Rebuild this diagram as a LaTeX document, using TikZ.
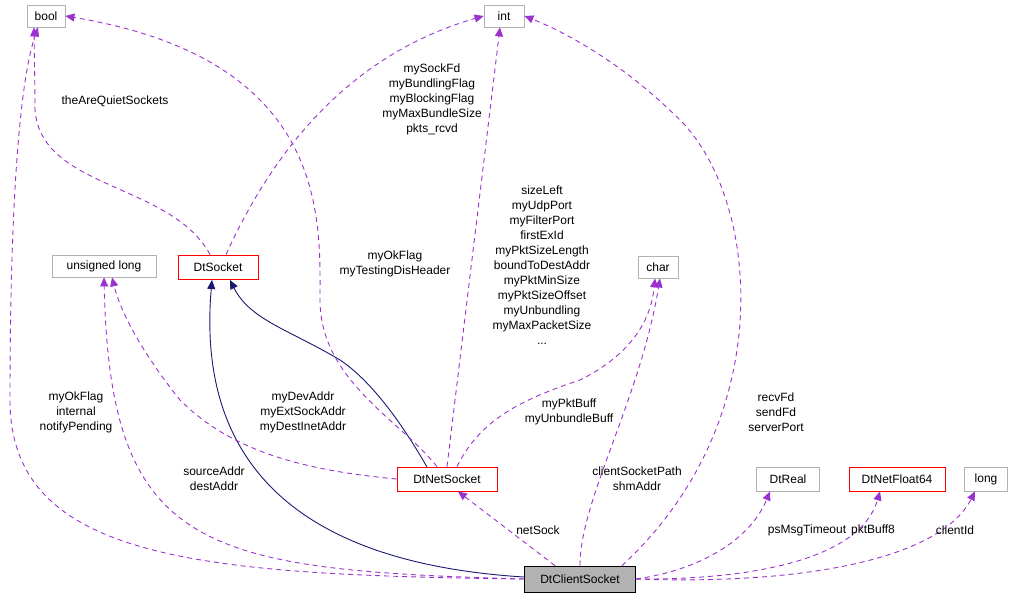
\documentclass[tikz,border=0pt]{standalone}
\usepackage{fontspec}
\setmainfont{Liberation Sans}
\usetikzlibrary{arrows.meta}
\definecolor{orch}{HTML}{9A32CD}
\definecolor{navy}{HTML}{191970}
\definecolor{bred}{HTML}{FF0000}
\begin{document}
\begin{tikzpicture}[x=1pt,y=-1pt,
  fnt/.style={font=\fontsize{12}{15}\selectfont},
  box/.style={draw=black!30,line width=0.8pt,fill=white,inner sep=0pt,minimum height=22pt,fnt},
  rbox/.style={draw=bred,line width=0.9pt,fill=white,inner sep=0pt,minimum height=24pt,fnt},
  use/.style={draw=orch,line width=0.9pt,dash pattern=on 5pt off 4pt,-{Triangle[length=9pt,width=8pt]}},
  inh/.style={draw=navy,line width=0.9pt,-{Triangle[length=9pt,width=8pt]}},
  lab/.style={fnt,align=center,inner sep=0pt}]
\useasboundingbox (0,0) rectangle (1018,600);
\draw[inh] (524,577) .. controls (250,560) and (200,420) .. (212,280);
\draw[inh] (427,467) .. controls (400,420) and (370,380) .. (340,360) .. controls (290,330) and (250,320) .. (230,280);

\node[box,minimum width=38pt] (bool) at (46,16) {bool};
\node[box,minimum width=40pt] (int) at (504,16) {int};
\node[box,minimum width=104pt] (ul) at (104,266) {unsigned long};
\node[rbox,minimum width=80pt] (sock) at (218,267) {DtSocket};
\node[box,minimum width=40pt] (char) at (658,267) {char};
\node[rbox,minimum width=100pt] (net) at (447,479) {DtNetSocket};
\node[box,minimum width=63pt,minimum height=24pt] (real) at (788,479) {DtReal};
\node[rbox,minimum width=96pt] (f64) at (897,479) {DtNetFloat64};
\node[box,minimum width=43pt,minimum height=24pt] (long) at (986,479) {long};
\node[draw=black,line width=0.8pt,fill=black!30,inner sep=0pt,minimum width=111pt,minimum height=26pt,fnt] (cs) at (580,579) {DtClientSocket};

\draw[use] (cs.west) .. controls (200,575) and (10,560) .. (10,400) .. controls (10,200) and (20,80) .. (bool.south-|38,0);
\draw[use] (sock.north-|210,0) .. controls (170,180) and (30,190) .. (35,100) -- (bool.south-|34,0);
\draw[use] (net.north) ++(-10,0) .. controls (400,420) and (320,380) .. (320,300) .. controls (320,220) and (330,60) .. (bool.east);
\draw[use] (sock.north-|226,0) .. controls (260,180) and (330,60) .. (int.west);
\draw[use] (net.north) -- (int.south-|500,0);
\draw[use] (cs.north-|622,0) .. controls (780,420) and (760,200) .. (680,120) .. controls (620,60) and (560,30) .. (int.east);
\draw[use] (net.west) .. controls (300,470) and (230,450) .. (180,400) .. controls (140,350) and (120,310) .. (ul.south-|112,0);
\draw[use] (cs.west) .. controls (200,570) and (110,550) .. (ul.south-|104,0);
\draw[use] (net.north) ++(10,0) .. controls (480,420) and (520,400) .. (580,380) .. controls (620,360) and (650,330) .. (char.south-|655,0);
\draw[use] (cs.north) .. controls (580,500) and (640,400) .. (char.south-|660,0);
\draw[use] (cs.north-|555,0) -- (net.south-|458,0);
\draw[use] (cs.east) .. controls (700,570) and (750,540) .. (real.south-|770,0);
\draw[use] (cs.east) .. controls (750,580) and (860,560) .. (f64.south-|880,0);
\draw[use] (cs.east) .. controls (800,585) and (940,560) .. (long.south-|975,0);

\node[lab] (l1) at (76,412) {myOkFlag\\internal\\notifyPending};
\node[lab] (l2) at (115,101) {theAreQuietSockets};
\node[lab] (l3) at (395,264) {myOkFlag\\myTestingDisHeader};
\node[lab] (l4) at (432,99) {mySockFd\\myBundlingFlag\\myBlockingFlag\\myMaxBundleSize\\pkts\_rcvd};
\node[lab] (l5) at (542,265) {sizeLeft\\myUdpPort\\myFilterPort\\firstExId\\myPktSizeLength\\boundToDestAddr\\myPktMinSize\\myPktSizeOffset\\myUnbundling\\myMaxPacketSize\\...};
\node[lab] (l6) at (776,412) {recvFd\\sendFd\\serverPort};
\node[lab] (l7) at (303,412) {myDevAddr\\myExtSockAddr\\myDestInetAddr};
\node[lab] (l8) at (214,479) {sourceAddr\\destAddr};
\node[lab] (l9) at (569,412) {myPktBuff\\myUnbundleBuff};
\node[lab] (l10) at (637,479) {clientSocketPath\\shmAddr};
\node[lab] (l11) at (538,530) {netSock};
\node[lab] (l12) at (807,530) {psMsgTimeout};
\node[lab] (l13) at (873,530) {pktBuff8};
\node[lab] (l14) at (955,530) {clientId};
\end{tikzpicture}
\end{document}
